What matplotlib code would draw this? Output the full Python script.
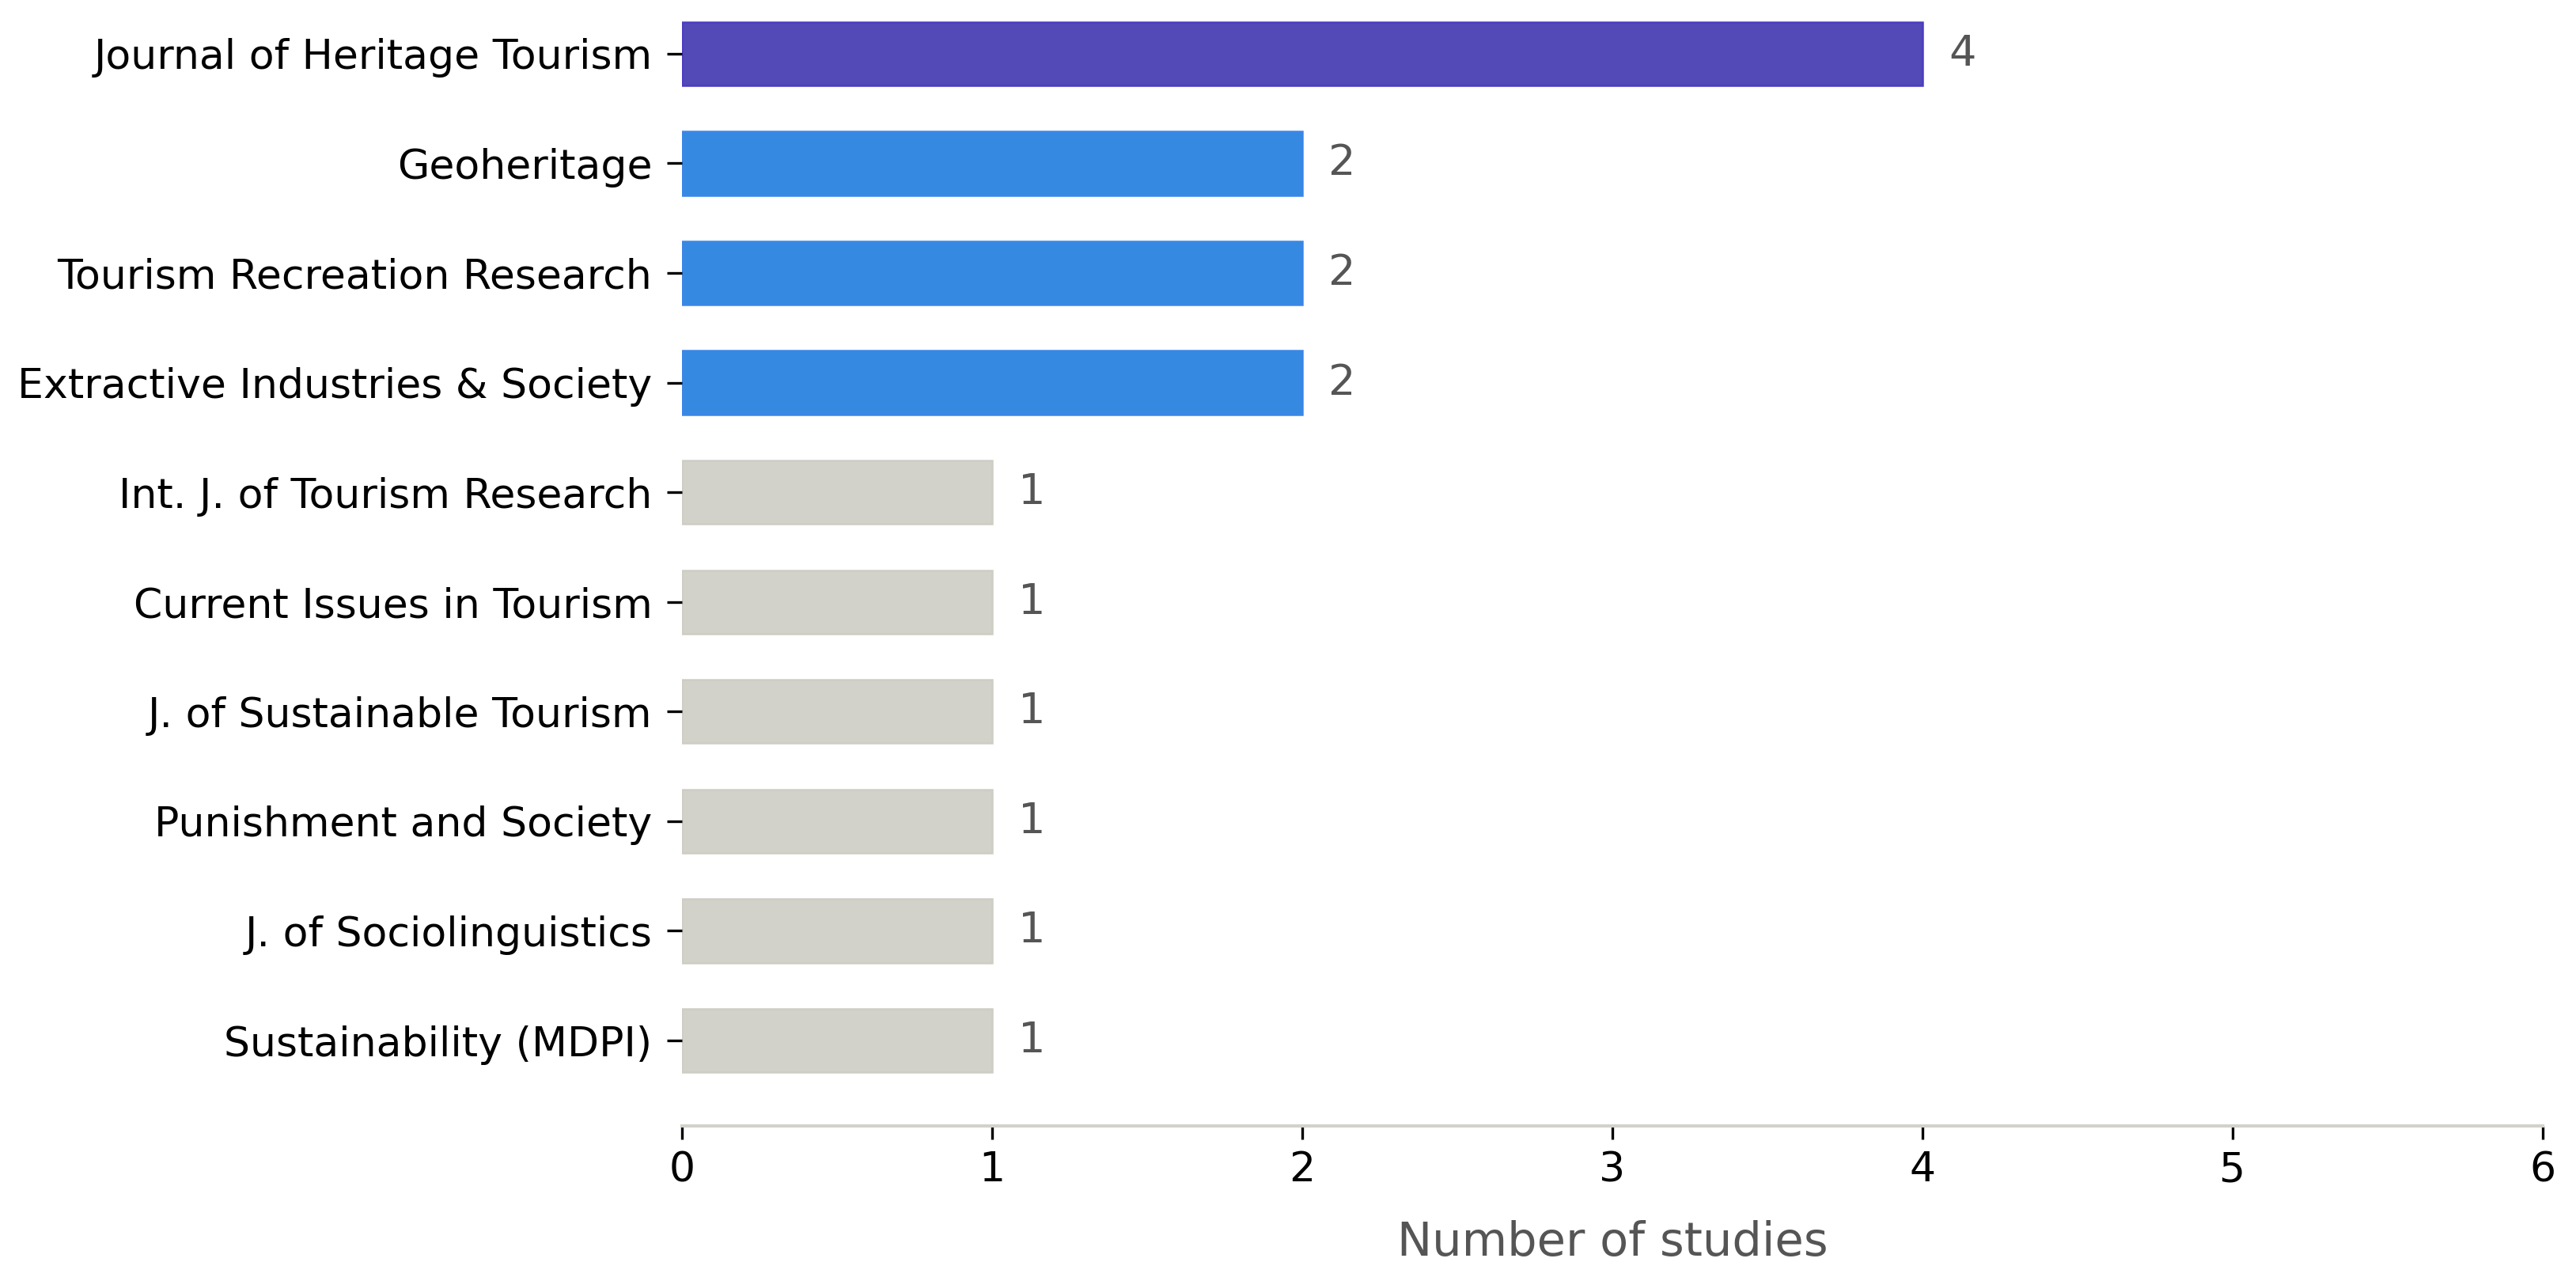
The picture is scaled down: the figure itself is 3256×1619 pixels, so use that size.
import matplotlib.pyplot as plt

journals = [
    "Journal of Heritage Tourism",
    "Geoheritage",
    "Tourism Recreation Research",
    "Extractive Industries & Society",
    "Int. J. of Tourism Research",
    "Current Issues in Tourism",
    "J. of Sustainable Tourism",
    "Punishment and Society",
    "J. of Sociolinguistics",
    "Sustainability (MDPI)",
]
counts = [4, 2, 2, 2, 1, 1, 1, 1, 1, 1]
bar_colors = ["#5349B7", "#3689E0", "#3689E0", "#3689E0",
              "#D3D2CA", "#D3D2CA", "#D3D2CA", "#D3D2CA", "#D3D2CA", "#D3D2CA"]
edge_colors = ["#4A3DC2", "#3A86E8", "#3A86E8", "#3A86E8",
               "#CECDC4", "#CECDC4", "#CECDC4", "#CECDC4", "#CECDC4", "#CECDC4"]

fig = plt.figure(figsize=(3256 / 300, 1619 / 300), dpi=300)
ax = fig.add_axes([0.2647, 0.121, 0.7224, 0.879])

ypos = list(range(len(journals)))
ax.barh(ypos, counts, height=0.58, color=bar_colors,
        edgecolor=edge_colors, linewidth=0.6)

for y, v in zip(ypos, counts):
    ax.text(v + 0.085, y, str(v), va="center", ha="left",
            fontsize=13, color="#555555")

ax.set_yticks(ypos)
ax.set_yticklabels(journals, fontsize=12.5)
ax.set_ylim(9.78, -0.49)
ax.set_xlim(0, 6)
ax.set_xticks(range(7))
ax.tick_params(axis="x", labelsize=12.5, length=4)
ax.tick_params(axis="y", length=4.5, pad=4.5)
ax.set_xlabel("Number of studies", fontsize=14.2, color="#555555", labelpad=9)

for side in ["top", "right", "left"]:
    ax.spines[side].set_visible(False)
ax.spines["bottom"].set_color("#D3D2CA")
ax.spines["bottom"].set_linewidth(1.0)

fig.savefig("out.png", dpi=300)
